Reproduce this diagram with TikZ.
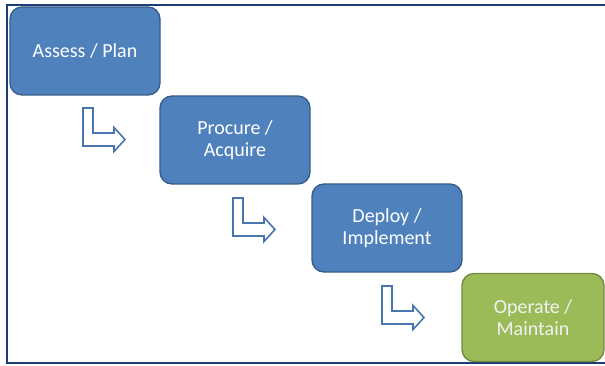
\documentclass[tikz,border=0pt]{standalone}
\usepackage{fontspec}
\setmainfont{Carlito}
\definecolor{boxblue}{HTML}{4F81BD}
\definecolor{boxblueedge}{HTML}{385D8A}
\definecolor{boxgreen}{HTML}{9BBB59}
\definecolor{boxgreenedge}{HTML}{71893F}
\definecolor{frame}{HTML}{1F3D73}
\definecolor{arrowblue}{HTML}{4A76B0}
\tikzset{
  stepbox/.style={draw=boxblueedge, fill=boxblue, line width=1.3pt, rounded corners=12pt,
    minimum width=150pt, minimum height=88pt, text=white, align=center,
    font=\fontsize{20}{22.5}\selectfont, inner sep=0pt},
  greenbox/.style={stepbox, draw=boxgreenedge, fill=boxgreen, text=white!95!black, minimum width=142pt},
  bentarrow/.pic={
    \draw[draw=arrowblue, fill=white, line width=1.6pt, line join=miter]
      (0,0) -- (10,0) -- (10,25) -- (31,25) -- (31,19.5) -- (42,31.5) -- (31,43.5) -- (31,38) -- (0,38) -- cycle;
  },
  framerule/.style={draw=frame, line width=1.8pt}
}
\begin{document}
\begin{tikzpicture}[x=1pt, y=-1pt]
\useasboundingbox (0,0) rectangle (605,366);
\fill[white] (0,0) rectangle (605,366);
% frame
\draw[framerule] (7,5) -- (605,5);
\draw[framerule] (7,4.1) -- (7,363);
\draw[framerule] (6.1,363) -- (605,363);
% boxes
\node[stepbox] (assess) at (85,51) {Assess / Plan};
\node[stepbox] (procure) at (235,140) {Procure /\\Acquire};
\node[stepbox] (deploy) at (387,228) {Deploy /\\Implement};
\node[greenbox] (operate) at (533,317.5) {Operate /\\Maintain};
% bent arrows
\pic at (83,108) {bentarrow};
\pic at (233,198) {bentarrow};
\pic at (382,286) {bentarrow};
\end{tikzpicture}
\end{document}
